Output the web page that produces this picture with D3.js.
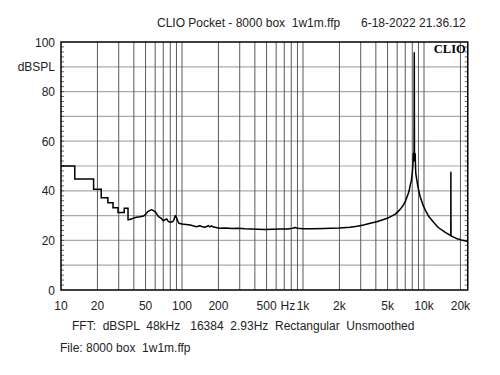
<!DOCTYPE html>
<html>
<head>
<meta charset="utf-8">
<script src="https://cdn.jsdelivr.net/npm/d3@7"></script>
<style>
  body { margin: 0; background: #fff; }
  text { font-family: "Liberation Sans", Arial, sans-serif; fill: #222; white-space: pre; }
</style>
</head>
<body>
<div id="chart"></div>
<script>
//Dimensions
const width = 500;
const height = 375;
const margin = { left: 61, right: 32, top: 42, bottom: 85 };

//Low frequency bins, drawn as steps (Hz, dBSPL)
const stepFreq = [10, 13, 18.6, 21.5, 24.4, 26.9, 29.6, 33.3, 35.8, 36.5];
const stepLevel = [50, 44.8, 40.6, 37.2, 35.2, 33.2, 31.3, 33.0, 28.3, 28.3];

//Rest of the spectrum (Hz, dBSPL)
const freq = [36.5, 38, 40, 42, 45, 48, 50, 52, 54, 56, 58, 60, 62, 64, 67, 70, 72, 75, 77, 80, 84, 86, 88, 90, 92, 94,
  100, 108, 117, 125, 132, 140, 146, 154, 160, 165, 170, 175, 180, 187, 195, 206, 230, 260, 290, 330, 370, 420, 490,
  560, 650, 750, 820, 860, 900, 1000, 1200, 1500, 1700, 2000, 2450, 2800, 3160, 3600, 4070, 4970, 5300, 5800, 6300,
  6700, 7000, 7500, 7700, 7850, 8000, 8100, 8150, 8220, 8280, 8310, 8340, 8400, 8450, 8550, 8900, 9300, 9800, 10300,
  11000, 12000, 13100, 14900, 16600, 16650, 16680, 16720, 18500, 20300, 22200, 23000];
const level = [28.3, 28.6, 29.0, 29.3, 29.5, 29.8, 30.5, 31.6, 32.0, 32.4, 32.0, 31.6, 30.6, 29.6, 29.0, 27.9, 28.3, 28.6, 27.7, 27.3, 27.6, 28.5, 30.0, 29.2, 28.0, 26.9,
  26.6, 26.4, 26.2, 25.8, 25.5, 25.9, 25.6, 25.3, 25.6, 26.0, 25.4, 25.9, 25.5, 25.3, 25.1, 24.9, 25.0, 24.8, 24.9, 24.7, 24.6, 24.5, 24.4,
  24.5, 24.6, 24.6, 24.9, 25.2, 24.9, 24.7, 24.7, 24.8, 24.9, 25.0, 25.3, 25.7, 26.2, 26.9, 27.5, 28.9, 29.6, 30.6, 32.3,
  34.0, 35.6, 39.6, 42.3, 44.0, 47.0, 50.5, 55.0, 52.0, 55.0, 95.7, 55.0, 52.0, 55.0, 47.0, 41.7, 37.6, 34.3, 32.0,
  29.5, 27.3, 25.2, 23.3, 21.9, 21.9, 47.5, 21.8, 20.8, 20.2, 19.8, 19.5];

//Axis ticks
const xTicks = [10, 20, 50, 100, 200, 500, 1000, 2000, 5000, 10000, 20000];
const xTickLabels = ["10", "20", "50", "100", "200", "500", "1k", "2k", "5k", "10k", "20k"];
const xGrid = [20, 30, 40, 50, 60, 70, 80, 90, 100, 200, 300, 400, 500, 600, 700, 800, 900,
  1000, 2000, 3000, 4000, 5000, 6000, 7000, 8000, 9000, 10000, 20000];
const yTicks = [0, 20, 40, 60, 80, 100];
const yGrid = [10, 20, 30, 40, 50, 60, 70, 80, 90];

//Svg element
const svg = d3.select("#chart").append("svg").attr("width", width).attr("height", height);

//Scales
const x = d3.scaleLog().domain([10, 23000]).range([margin.left, margin.left + 121 * Math.log10(2300)]);
const y = d3.scaleLinear().domain([0, 100]).range([height - margin.bottom, margin.top]);
const x0 = x.range()[0], x1 = x.range()[1], y0 = y.range()[0], y1 = y.range()[1];

//Grid lines
svg.append("g").selectAll("line").data(yGrid).enter().append("line")
  .attr("x1", x0).attr("x2", x1).attr("y1", d => y(d)).attr("y2", d => y(d))
  .attr("stroke", "#a8a8a8").attr("stroke-width", 1.2);
svg.append("g").selectAll("line").data(xGrid).enter().append("line")
  .attr("x1", d => x(d)).attr("x2", d => x(d)).attr("y1", y0).attr("y2", y1)
  .attr("stroke", "#5a5a5a").attr("stroke-width", 1);

//Minor ticks every 2 dB on both sides
const minor = d3.range(2, 100, 2);
svg.append("g").selectAll("line").data(minor).enter().append("line")
  .attr("x1", x0).attr("x2", x0 + 3).attr("y1", d => y(d)).attr("y2", d => y(d))
  .attr("stroke", "#444").attr("stroke-width", 0.8);
svg.append("g").selectAll("line").data(minor).enter().append("line")
  .attr("x1", x1 - 3).attr("x2", x1).attr("y1", d => y(d)).attr("y2", d => y(d))
  .attr("stroke", "#444").attr("stroke-width", 0.8);

//Step part of the curve
const stepLine = d3.line().x(d => x(d[0])).y(d => y(d[1])).curve(d3.curveStepAfter);
svg.append("path").datum(stepFreq.map((f, i) => [f, stepLevel[i]]))
  .attr("d", stepLine).attr("fill", "none").attr("stroke", "#000").attr("stroke-width", 1.5);

//Main curve
const line = d3.line().x(d => x(d[0])).y(d => y(d[1]));
svg.append("path").datum(freq.map((f, i) => [f, level[i]]))
  .attr("d", line).attr("fill", "none").attr("stroke", "#000").attr("stroke-width", 1.5)
  .attr("stroke-linejoin", "round");

//Frame
svg.append("rect").attr("x", x0).attr("y", y1).attr("width", x1 - x0).attr("height", y0 - y1)
  .attr("fill", "none").attr("stroke", "#000").attr("stroke-width", 1.5);

//Y labels
svg.append("g").selectAll("text").data(yTicks).enter().append("text")
  .attr("x", 55).attr("y", d => y(d) + 4.5).attr("text-anchor", "end")
  .style("font-size", "12px").text(d => d);
svg.append("text").attr("x", 55).attr("y", y(90) + 4.5).attr("text-anchor", "end")
  .style("font-size", "12px").text("dBSPL");

//X labels
svg.append("g").selectAll("text").data(xTicks).enter().append("text")
  .attr("x", d => x(d)).attr("y", 309.5).attr("text-anchor", "middle")
  .style("font-size", "12px").text((d, i) => xTickLabels[i]);
svg.append("text").attr("x", x(500) + 14).attr("y", 309.5)
  .style("font-size", "12px").text("Hz");

//Title
svg.append("text").attr("x", 157).attr("y", 26.5).style("font-size", "12px")
  .text("CLIO Pocket - 8000 box  1w1m.ffp");
svg.append("text").attr("x", 361).attr("y", 26.5).style("font-size", "12px")
  .text("6-18-2022 21.36.12");

//Logo
svg.append("text").attr("x", x1 - 2).attr("y", 53).attr("text-anchor", "end")
  .style("font-family", "'Liberation Serif', 'DejaVu Serif', serif").style("font-weight", "bold")
  .style("font-size", "12.5px").style("fill", "#000").text("CLIO");

//Footer
svg.append("text").attr("x", 72).attr("y", 330).style("font-size", "12px")
  .text("FFT:  dBSPL  48kHz   16384  2.93Hz  Rectangular  Unsmoothed");
svg.append("text").attr("x", 60).attr("y", 352).style("font-size", "12px")
  .text("File: 8000 box  1w1m.ffp");
</script>
</body>
</html>
